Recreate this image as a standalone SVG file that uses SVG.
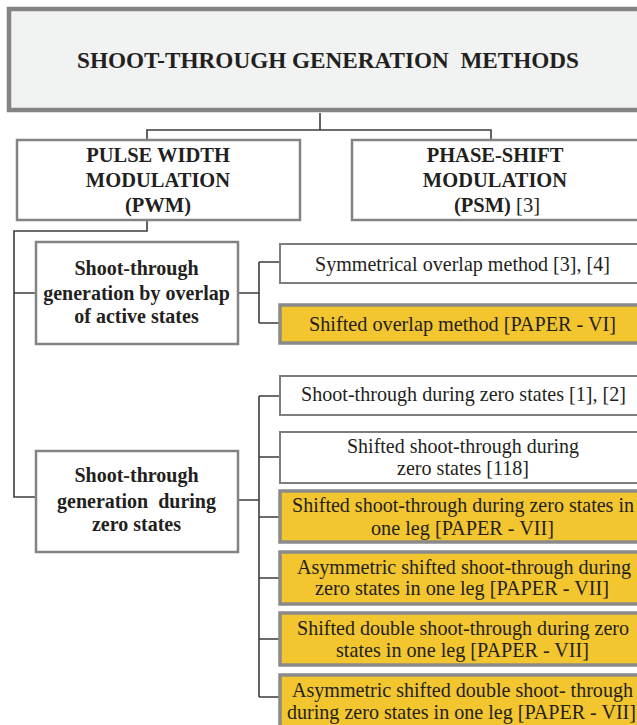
<svg xmlns="http://www.w3.org/2000/svg" width="637" height="725" viewBox="0 0 637 725">
<style>
text{font-family:"Liberation Serif","Times New Roman",serif;fill:#231f20;text-anchor:middle;white-space:pre}
.b{font-weight:bold}
.t{font-size:23px}
.h{font-size:20.5px}
.m{font-size:20px}
.r{font-size:21px}
.title{fill:#f1f2f2;stroke:#838383;stroke-width:4.5}
.box{fill:#fff;stroke:#838383;stroke-width:2.5}
.wb{fill:#fff;stroke:#7d7d7d;stroke-width:2}
.yb{fill:#f3c52e;stroke:#8a8a8a;stroke-width:3.5}
.c{fill:none;stroke:#3d3d3d;stroke-width:1.6}
</style>
<rect width="637" height="725" fill="#fff"/>
<g id="connectors">
<path class="c" d="M320 113V130M147 139V130H491V139"/>
<path class="c" d="M147 220V231H14V497H35M14 293H35"/>
<path class="c" d="M238 293H259M259 262V323M259 262H279M259 323H279"/>
<path class="c" d="M238 500H259M259 396V697M259 396H279M259 457H279M259 517H279M259 578H279M259 639H279M259 697H279"/>
</g>
<g id="title">
<rect class="title" x="9" y="9" width="650" height="101"/>
<text class="b t" x="328" y="68" textLength="502" lengthAdjust="spacingAndGlyphs">SHOOT-THROUGH GENERATION  METHODS</text>
</g>
<g id="pwm">
<rect class="box" x="17" y="140" width="283" height="80"/>
<text class="b h" x="158" y="162">PULSE WIDTH</text>
<text class="b h" x="158" y="187">MODULATION</text>
<text class="b h" x="158" y="212">(PWM)</text>
</g>
<g id="psm">
<rect class="box" x="352" y="140" width="300" height="80"/>
<text class="b h" x="495" y="162">PHASE-SHIFT</text>
<text class="b h" x="495" y="187">MODULATION</text>
<text class="h" x="497" y="212"><tspan class="b">(PSM)</tspan> [3]</text>
</g>
<g id="overlap">
<rect class="box" x="36" y="242" width="202" height="102"/>
<text class="b m" x="136.5" y="275">Shoot-through</text>
<text class="b m" x="136.5" y="300">generation by overlap</text>
<text class="b m" x="136.5" y="323">of active states</text>
</g>
<g id="symmetrical">
<rect class="wb" x="280" y="244" width="370" height="39"/>
<text class="r" x="462.5" y="271" textLength="295" lengthAdjust="spacingAndGlyphs">Symmetrical overlap method [3], [4]</text>
</g>
<g id="shifted-overlap">
<rect class="yb" x="280" y="305" width="370" height="38"/>
<text class="r" x="462.5" y="331" textLength="307" lengthAdjust="spacingAndGlyphs">Shifted overlap method [PAPER - VI]</text>
</g>
<g id="zero">
<rect class="box" x="36" y="451" width="202" height="101"/>
<text class="b m" x="136.5" y="482">Shoot-through</text>
<text class="b m" x="136.5" y="508">generation  during</text>
<text class="b m" x="136.5" y="531">zero states</text>
</g>
<g id="st-zero">
<rect class="wb" x="280" y="376" width="370" height="39"/>
<text class="r" x="463.5" y="401" textLength="325" lengthAdjust="spacingAndGlyphs">Shoot-through during zero states [1], [2]</text>
</g>
<g id="shifted-st">
<rect class="wb" x="280" y="432" width="370" height="51"/>
<text class="r" x="463" y="453" textLength="232" lengthAdjust="spacingAndGlyphs">Shifted shoot-through during</text>
<text class="r" x="463" y="475" textLength="132" lengthAdjust="spacingAndGlyphs">zero states [118]</text>
</g>
<g id="shifted-st-leg">
<rect class="yb" x="280" y="491" width="370" height="51"/>
<text class="r" x="463" y="512" textLength="342" lengthAdjust="spacingAndGlyphs">Shifted shoot-through during zero states in</text>
<text class="r" x="462.5" y="535" textLength="183" lengthAdjust="spacingAndGlyphs">one leg [PAPER - VII]</text>
</g>
<g id="asym-shifted-st">
<rect class="yb" x="280" y="552" width="370" height="52"/>
<text class="r" x="464" y="574" textLength="334" lengthAdjust="spacingAndGlyphs">Asymmetric shifted shoot-through during</text>
<text class="r" x="462" y="595" textLength="294" lengthAdjust="spacingAndGlyphs">zero states in one leg [PAPER - VII]</text>
</g>
<g id="shifted-double">
<rect class="yb" x="280" y="613" width="370" height="52"/>
<text class="r" x="463" y="635" textLength="332" lengthAdjust="spacingAndGlyphs">Shifted double shoot-through during zero</text>
<text class="r" x="462.5" y="657" textLength="253" lengthAdjust="spacingAndGlyphs">states in one leg [PAPER - VII]</text>
</g>
<g id="asym-double">
<rect class="yb" x="280" y="675" width="370" height="60"/>
<text class="r" x="462.5" y="697" textLength="341" lengthAdjust="spacingAndGlyphs">Asymmetric shifted double shoot- through</text>
<text class="r" x="461.5" y="719" textLength="349" lengthAdjust="spacingAndGlyphs">during zero states in one leg [PAPER - VII]</text>
</g>
</svg>
